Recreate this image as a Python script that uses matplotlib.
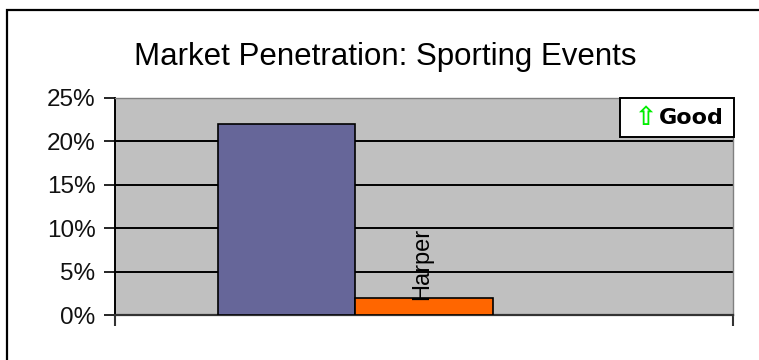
import matplotlib
matplotlib.use("Agg")
import matplotlib.pyplot as plt
from matplotlib.patches import Rectangle

# ---- data ----
title = "Market Penetration: Sporting Events"
series_names = ["", "Harper", ""]
series_values = [0.22, 0.02, 0.0]
series_colors = ["#666699", "#FF6600", "#FFFFCC"]
y_ticks = [0.0, 0.05, 0.10, 0.15, 0.20, 0.25]
y_tick_labels = ["0%", "5%", "10%", "15%", "20%", "25%"]
legend_arrow = "\u21e7"
legend_text = "Good"

W, H = 759, 360
fig = plt.figure(figsize=(W / 100, H / 100), dpi=100)
fig.patch.set_facecolor("white")

# outer chart border (only left and top visible)
fig.patches.append(Rectangle((7 / W, -0.2), 2.0, (1 - 10 / H) + 0.2,
                             transform=fig.transFigure, fill=False,
                             edgecolor="black", linewidth=1.6))

L, R, T, B = 115, 733, 98, 315
ax = fig.add_axes([L / W, 1 - B / H, (R - L) / W, (B - T) / H])
ax.set_facecolor("#C0C0C0")

n = len(series_values)
gap = 0.75
bw = 1.0 / (n + 2 * gap)
for i, (v, c) in enumerate(zip(series_values, series_colors)):
    x = -0.5 + gap * bw + (i + 0.5) * bw
    if v > 0:
        ax.bar(x, v, width=bw, color=c, edgecolor="black", linewidth=1.2, zorder=3)
    if series_names[i]:
        ax.text(x - 0.003, v - 0.003, series_names[i], rotation=90, ha="center", va="bottom",
                fontsize=17, family="Liberation Sans", zorder=4)

ax.set_xlim(-0.5, 0.5)
ax.set_ylim(0, 0.25)
ax.set_yticks(y_ticks)
ax.set_yticklabels(y_tick_labels, family="Liberation Sans", fontsize=17.5, color="#111111")
ax.set_xticks([-0.5, 0.5])
ax.set_xticklabels([])
ax.tick_params(axis="y", direction="out", length=8, width=1.2, color="black", pad=6)
ax.tick_params(axis="x", direction="out", length=8, width=1.5, color="#333333")
ax.yaxis.grid(True, color="black", linewidth=1.4, zorder=1)
ax.set_axisbelow(True)
for s in ["top", "right"]:
    ax.spines[s].set_color("#808080")
    ax.spines[s].set_linewidth(1.0)
ax.spines["left"].set_color("black")
ax.spines["left"].set_linewidth(1.4)
ax.spines["bottom"].set_color("#333333")
ax.spines["bottom"].set_linewidth(1.6)

fig.text(385 / W, 1 - 57 / H, title, ha="center", va="center",
         fontsize=22.5, family="Liberation Sans")

# legend box
fig.patches.append(Rectangle((620 / W, 1 - 137 / H), 114 / W, 39 / H,
                             transform=fig.transFigure, facecolor="white",
                             edgecolor="black", linewidth=1.4, zorder=5))
fig.text(645 / W, 1 - 118 / H, legend_arrow, ha="center", va="center",
         fontsize=19, color="#00EE00", fontweight="bold", family="DejaVu Sans", zorder=6)
fig.text(691 / W, 1 - 118 / H, legend_text, ha="center", va="center",
         fontsize=16, fontweight="bold", family="DejaVu Sans", zorder=6)

fig.savefig("out.png", dpi=100)
